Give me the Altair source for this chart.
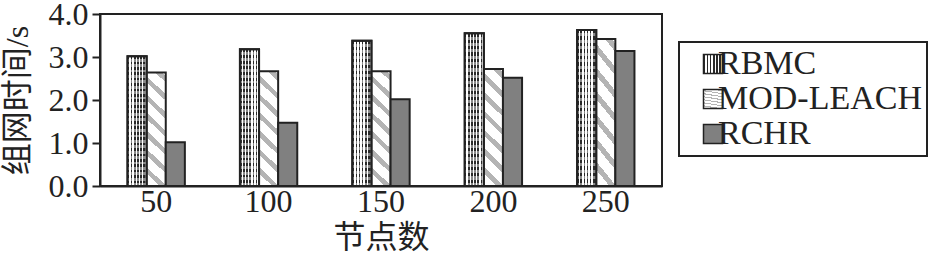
import json
import altair as alt
import pandas as pd

# ---- data ----
nodes = ["50", "100", "150", "200", "250"]
series = ["RBMC", "MOD-LEACH", "RCHR"]
rbmc = [3.02, 3.18, 3.38, 3.55, 3.63]
mod_leach = [2.64, 2.67, 2.67, 2.72, 3.42]
rchr = [1.02, 1.47, 2.02, 2.52, 3.14]
y_ticks = [0, 1, 2, 3, 4]

rows = []
for name, vals in zip(series, [rbmc, mod_leach, rchr]):
    for n, v in zip(nodes, vals):
        rows.append({"nodes": n, "series": name, "value": v})
df = pd.DataFrame(rows)


# ---- hatch-like fills built from hard-stop linear gradients ----
def stripes(c1, c2, n, frac):
    stops = []
    for i in range(n):
        a = i / n
        b = (i + frac) / n
        c = (i + 1) / n
        stops += [
            {"offset": round(a, 4), "color": c1},
            {"offset": round(b, 4), "color": c1},
            {"offset": round(b, 4), "color": c2},
            {"offset": round(c, 4), "color": c2},
        ]
    return stops


grad_rbmc = {"gradient": "linear", "x1": 0, "y1": 0, "x2": 1, "y2": 0,
             "stops": stripes("#2a2a2a", "#ffffff", 6, 0.5)}
grad_rbmc_rows = {"gradient": "linear", "x1": 0, "y1": 0, "x2": 0, "y2": 1,
                  "stops": stripes("rgba(255,255,255,0)", "rgba(255,255,255,0.45)", 24, 0.5)}
grad_mod = {"gradient": "linear", "x1": 0, "y1": 1.05, "x2": 0.2, "y2": -0.2,
            "stops": stripes("#b4b4b4", "#ffffff", 8, 0.35)}
solid_rchr = "#808080"

fills = [
    {"expr": json.dumps(grad_rbmc)},
    {"expr": json.dumps(grad_mod)},
    solid_rchr,
]

serif = "Liberation Serif, Times New Roman, serif"
cjk = "Liberation Serif, Noto Sans CJK SC"
ink = "#222222"

x_enc = alt.X("nodes:N", sort=nodes,
              scale=alt.Scale(paddingInner=0.49, paddingOuter=0.245),
              axis=alt.Axis(title="节点数", labelAngle=0, ticks=False,
                            labelPadding=0, titlePadding=5))
xo_enc = alt.XOffset("series:N", sort=series,
                     scale=alt.Scale(domain=series, paddingInner=0, paddingOuter=0))
y_enc = alt.Y("value:Q", scale=alt.Scale(domain=[0, 4]),
              axis=alt.Axis(title="组网时间/s", values=y_ticks, format=".1f", grid=False,
                            tickSize=8, labelPadding=4, titlePadding=14))

base = alt.Chart(df)

bars = base.mark_bar(stroke=ink, strokeWidth=2).encode(
    x=x_enc, xOffset=xo_enc, y=y_enc,
    fill=alt.Fill(
        "series:N", sort=series,
        scale=alt.Scale(domain=series, range=fills),
        title=None,
        legend=alt.Legend(orient="none", legendX=579, legendY=28),
    ),
)

checker = base.transform_filter(
    alt.datum.series == "RBMC"
).mark_bar(stroke=ink, strokeWidth=2).encode(
    x=x_enc, xOffset=xo_enc, y=y_enc,
    fill=alt.value(grad_rbmc_rows),
)

chart = alt.layer(bars, checker).properties(
    width=562, height=172,
    padding={"left": 100, "top": 14, "right": 280, "bottom": 69},
    autosize="none",
).configure_view(
    stroke=ink, strokeWidth=2
).configure_axis(
    domainColor=ink, domainWidth=2, tickColor=ink, tickWidth=2,
    labelFont=serif, labelFontSize=32, labelColor=ink,
    titleFont=cjk, titleFontSize=32, titleFontWeight="normal", titleColor=ink,
).configure_legend(
    strokeColor=ink, strokeWidth=2, padding=5,
    symbolType="square", symbolSize=361, symbolStrokeColor=ink, symbolStrokeWidth=1.5,
    symbolOffset=12, labelOffset={"expr": "-12"}, rowPadding=1,
    labelFont=serif, labelFontSize=34, labelColor=ink, labelLimit=400,
)

chart.save("out.html", embed_options={"renderer": "svg", "actions": False})
